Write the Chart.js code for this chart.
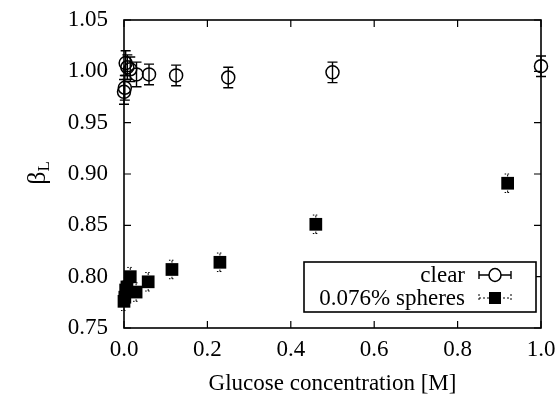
<!DOCTYPE html>
<html><head><meta charset="utf-8">
<script src="https://cdn.jsdelivr.net/npm/chart.js@4"></script>
<style>html,body{margin:0;padding:0;background:#fff}</style>
</head><body>
<canvas id="c" width="559" height="399" style="width:559px;height:399px;display:block"></canvas>
<script>
// ---- data ----
const clearX   = [0.000, 0.002, 0.004, 0.008, 0.015, 0.030, 0.060, 0.125, 0.250, 0.500, 1.000];
const clearY   = [0.980, 0.984, 1.008, 1.004, 1.002, 0.997, 0.997, 0.996, 0.994, 0.999, 1.005];
const clearErr = [0.012, 0.012, 0.012, 0.012, 0.012, 0.012, 0.010, 0.010, 0.010, 0.010, 0.010];
const sphX     = [0.000, 0.002, 0.004, 0.007, 0.015, 0.029, 0.058, 0.115, 0.230, 0.460, 0.920];
const sphY     = [0.776, 0.780, 0.787, 0.790, 0.800, 0.785, 0.795, 0.807, 0.814, 0.851, 0.891];
const sphErr   = [0.009, 0.009, 0.009, 0.009, 0.009, 0.009, 0.009, 0.009, 0.009, 0.009, 0.009];
const xTickVals = [0.0, 0.2, 0.4, 0.6, 0.8, 1.0];
const yTickVals = [0.75, 0.80, 0.85, 0.90, 0.95, 1.00, 1.05];
const seriesNames = ['clear', '0.076% spheres'];
const xTitle = 'Glucose concentration [M]';

const FONT = '"Liberation Serif", "DejaVu Serif", serif';
const FS = 23;

const errorBars = {
  id: 'errorBars',
  beforeDatasetsDraw(chart) {
    const ctx = chart.ctx, xs = chart.scales.x, ys = chart.scales.y;
    chart.data.datasets.forEach(ds => {
      ctx.save();
      ctx.strokeStyle = '#000';
      ctx.lineWidth = ds.errDashed ? 1 : 1.4;
      ds.data.forEach((p, j) => {
        const px = xs.getPixelForValue(p.x);
        const y1 = ys.getPixelForValue(p.y - ds.errors[j]);
        const y2 = ys.getPixelForValue(p.y + ds.errors[j]);
        ctx.setLineDash(ds.errDashed ? [2, 2] : []);
        ctx.beginPath(); ctx.moveTo(px, y1); ctx.lineTo(px, y2); ctx.stroke();
        ctx.setLineDash(ds.errDashed ? [1.5, 1.5] : []);
        const c = ds.capHalf;
        ctx.beginPath();
        ctx.moveTo(px - c, y1); ctx.lineTo(px + c, y1);
        ctx.moveTo(px - c, y2); ctx.lineTo(px + c, y2);
        ctx.stroke();
      });
      ctx.restore();
    });
  }
};

const frame = {
  id: 'frame',
  afterDraw(chart) {
    const ctx = chart.ctx, a = chart.chartArea, xs = chart.scales.x, ys = chart.scales.y;
    ctx.save();
    ctx.strokeStyle = '#000';
    ctx.lineWidth = 1.6;
    ctx.strokeRect(a.left, a.top, a.right - a.left, a.bottom - a.top);
    ctx.lineWidth = 1.2;
    const L = 7;
    ctx.beginPath();
    xTickVals.forEach(v => {
      const px = xs.getPixelForValue(v);
      ctx.moveTo(px, a.bottom); ctx.lineTo(px, a.bottom - L);
      ctx.moveTo(px, a.top); ctx.lineTo(px, a.top + L);
    });
    yTickVals.forEach(v => {
      const py = ys.getPixelForValue(v);
      ctx.moveTo(a.left, py); ctx.lineTo(a.left + L, py);
      ctx.moveTo(a.right, py); ctx.lineTo(a.right - L, py);
    });
    ctx.stroke();

    // y-axis title beta_L
    ctx.save();
    ctx.translate(38, 173);
    ctx.rotate(-Math.PI / 2);
    ctx.fillStyle = '#000';
    ctx.textBaseline = 'middle';
    ctx.textAlign = 'left';
    ctx.font = '26px ' + FONT;
    const bw = ctx.measureText('β').width;
    ctx.font = '17px ' + FONT;
    const lw = ctx.measureText('L').width;
    const start = -(bw + lw) / 2;
    ctx.font = '26px ' + FONT;
    ctx.fillText('β', start, 0);
    ctx.font = '17px ' + FONT;
    ctx.fillText('L', start + bw, 7);
    ctx.restore();

    // legend
    const bx = 304, by = 262, bwid = 232, bh = 50;
    ctx.fillStyle = '#fff';
    ctx.fillRect(bx, by, bwid, bh);
    ctx.lineWidth = 1.6;
    ctx.strokeRect(bx, by, bwid, bh);
    ctx.fillStyle = '#000';
    ctx.font = FS + 'px ' + FONT;
    ctx.textAlign = 'right';
    ctx.textBaseline = 'middle';
    const rows = [275, 298];
    const sx1 = 479, sx2 = 511, sc = 495;
    seriesNames.forEach((name, i) => {
      const ry = rows[i];
      ctx.fillText(name, 465, ry + 1);
      ctx.lineWidth = i === 0 ? 1.4 : 1;
      ctx.setLineDash(i === 0 ? [] : [2, 2]);
      ctx.beginPath();
      ctx.moveTo(sx1, ry); ctx.lineTo(sx2, ry);
      ctx.moveTo(sx1, ry - 4); ctx.lineTo(sx1, ry + 4);
      ctx.moveTo(sx2, ry - 4); ctx.lineTo(sx2, ry + 4);
      ctx.stroke();
      ctx.setLineDash([]);
      if (i === 0) {
        ctx.fillStyle = '#fff';
        ctx.beginPath(); ctx.ellipse(sc, ry, 6, 6.5, 0, 0, Math.PI * 2); ctx.fill();
        ctx.lineWidth = 1.5;
        ctx.stroke();
        ctx.fillStyle = '#000';
      } else {
        ctx.fillRect(sc - 6, ry - 6, 12, 12);
      }
    });
    ctx.restore();
  }
};

const ctx = document.getElementById('c').getContext('2d');
new Chart(ctx, {
  type: 'scatter',
  data: {
    datasets: [
      {
        label: seriesNames[1],
        data: sphX.map((x, i) => ({x, y: sphY[i]})),
        errors: sphErr, errDashed: true, capHalf: 3,
        pointStyle: 'rect', pointRadius: 9, pointBorderWidth: 0,
        backgroundColor: '#000', borderColor: '#000', clip: false
      },
      {
        label: seriesNames[0],
        data: clearX.map((x, i) => ({x, y: clearY[i]})),
        errors: clearErr, errDashed: false, capHalf: 5,
        pointStyle: 'circle', pointRadius: 6.5, pointBorderWidth: 1.5,
        backgroundColor: 'rgba(0,0,0,0)', borderColor: '#000', clip: false
      }
    ]
  },
  options: {
    responsive: false,
    animation: false,
    events: [],
    layout: { padding: { top: 20, right: 18, left: 0, bottom: 0 } },
    plugins: { legend: { display: false }, tooltip: { enabled: false } },
    scales: {
      x: {
        type: 'linear', min: 0, max: 1,
        afterFit(s) { s.height = 71; s.paddingLeft = 0; s.paddingRight = 0; },
        afterBuildTicks(s) { s.ticks = xTickVals.map(v => ({value: v})); },
        grid: { display: false, drawTicks: false },
        border: { display: false },
        ticks: { color: '#000', padding: 8, font: { family: FONT, size: FS }, callback: v => v.toFixed(1), maxRotation: 0 },
        title: { display: true, text: xTitle, color: '#000', font: { family: FONT, size: FS }, padding: { top: 0, bottom: 1 } }
      },
      y: {
        type: 'linear', min: 0.75, max: 1.05,
        afterFit(s) { s.width = 124; s.paddingTop = 0; s.paddingBottom = 0; },
        afterBuildTicks(s) { s.ticks = yTickVals.map(v => ({value: v})); },
        grid: { display: false, drawTicks: false },
        border: { display: false },
        ticks: { color: '#000', padding: 16, font: { family: FONT, size: FS }, callback: v => v.toFixed(2) }
      }
    }
  },
  plugins: [errorBars, frame]
});
</script>
</body></html>
